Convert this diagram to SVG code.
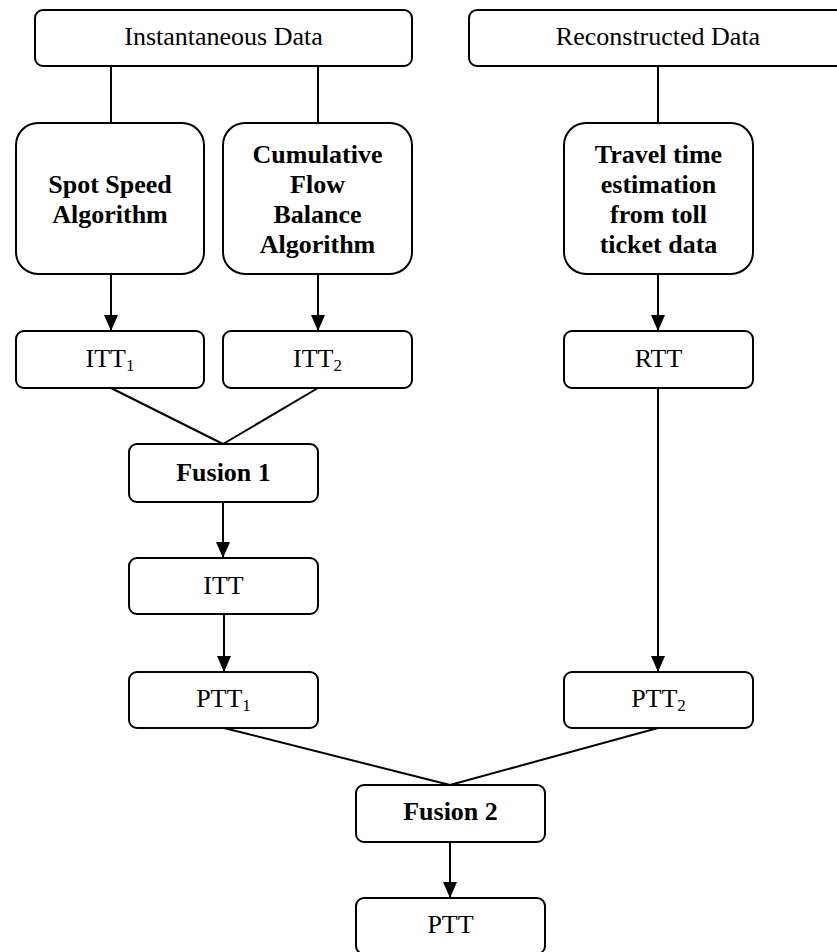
<svg xmlns="http://www.w3.org/2000/svg" width="837" height="952" viewBox="0 0 837 952">
  <style>
    .box { fill: #ffffff; stroke: #000000; stroke-width: 2; }
    .edge { fill: none; stroke: #000000; stroke-width: 2; }
    .t { font-size: 26px; fill: #000000; text-anchor: middle; }
    .b { font-weight: bold; }
    .sub { font-size: 17px; }
  </style>
  <rect width="837" height="952" fill="#ffffff"/>

  <!-- connectors -->
  <g id="connectors">
    <line class="edge" x1="111" y1="66" x2="111" y2="123"/>
    <line class="edge" x1="318" y1="66" x2="318" y2="123"/>
    <line class="edge" x1="658" y1="66" x2="658" y2="123"/>
    <path class="edge" d="M111,274 V331"/>
    <path d="M104,315 L118,315 L111,331 Z"/>
    <path class="edge" d="M318,274 V331"/>
    <path d="M311,315 L325,315 L318,331 Z"/>
    <path class="edge" d="M658,274 V331"/>
    <path d="M651,315 L665,315 L658,331 Z"/>
    <line class="edge" x1="111" y1="388" x2="223" y2="444"/>
    <line class="edge" x1="318" y1="388" x2="223" y2="444"/>
    <path class="edge" d="M223,502 V558"/>
    <path d="M216,542 L230,542 L223,558 Z"/>
    <path class="edge" d="M224,614 V672"/>
    <path d="M217,656 L231,656 L224,672 Z"/>
    <path class="edge" d="M658,388 V672"/>
    <path d="M651,656 L665,656 L658,672 Z"/>
    <line class="edge" x1="224" y1="728" x2="450" y2="785"/>
    <line class="edge" x1="658" y1="728" x2="450" y2="785"/>
    <path class="edge" d="M450,842 V898"/>
    <path d="M443,882 L457,882 L450,898 Z"/>
  </g>

  <g font-family="Liberation Serif, Times New Roman, Times, serif">
  <g id="instantaneous-data">
    <rect class="box" x="35" y="10" width="377" height="56" rx="8"/>
    <text class="t" x="223.5" y="45">Instantaneous Data</text>
  </g>
  <g id="reconstructed-data">
    <rect class="box" x="469" y="10" width="377" height="56" rx="8"/>
    <text class="t" x="658" y="45">Reconstructed Data</text>
  </g>

  <g id="spot-speed">
    <rect class="box" x="16" y="123" width="188" height="151" rx="22"/>
    <text class="t b" x="110" y="193">Spot Speed</text>
    <text class="t b" x="110" y="223">Algorithm</text>
  </g>
  <g id="cumulative-flow">
    <rect class="box" x="223" y="123" width="189" height="151" rx="22"/>
    <text class="t b" x="317.5" y="163">Cumulative</text>
    <text class="t b" x="317.5" y="193">Flow</text>
    <text class="t b" x="317.5" y="223">Balance</text>
    <text class="t b" x="317.5" y="253">Algorithm</text>
  </g>
  <g id="toll-ticket">
    <rect class="box" x="564" y="123" width="189" height="151" rx="22"/>
    <text class="t b" x="658.5" y="163">Travel time</text>
    <text class="t b" x="658.5" y="193">estimation</text>
    <text class="t b" x="658.5" y="223">from toll</text>
    <text class="t b" x="658.5" y="253">ticket data</text>
  </g>

  <g id="itt1">
    <rect class="box" x="16" y="331" width="188" height="57" rx="8"/>
    <text class="t" x="110" y="367">ITT<tspan class="sub" dy="4">1</tspan></text>
  </g>
  <g id="itt2">
    <rect class="box" x="223" y="331" width="189" height="57" rx="8"/>
    <text class="t" x="317.5" y="367">ITT<tspan class="sub" dy="4">2</tspan></text>
  </g>
  <g id="rtt">
    <rect class="box" x="564" y="331" width="189" height="57" rx="8"/>
    <text class="t" x="658.5" y="367">RTT</text>
  </g>

  <g id="fusion1">
    <rect class="box" x="129" y="444" width="189" height="58" rx="8"/>
    <text class="t b" x="223.5" y="481">Fusion 1</text>
  </g>
  <g id="itt">
    <rect class="box" x="129" y="558" width="189" height="56" rx="8"/>
    <text class="t" x="223.5" y="594">ITT</text>
  </g>

  <g id="ptt1">
    <rect class="box" x="129" y="672" width="189" height="56" rx="8"/>
    <text class="t" x="223.5" y="707">PTT<tspan class="sub" dy="4">1</tspan></text>
  </g>
  <g id="ptt2">
    <rect class="box" x="564" y="672" width="189" height="56" rx="8"/>
    <text class="t" x="658.5" y="707">PTT<tspan class="sub" dy="4">2</tspan></text>
  </g>

  <g id="fusion2">
    <rect class="box" x="356" y="785" width="189" height="57" rx="8"/>
    <text class="t b" x="450.5" y="820">Fusion 2</text>
  </g>
  <g id="ptt">
    <rect class="box" x="356" y="898" width="189" height="56" rx="8"/>
    <text class="t" x="450.5" y="933">PTT</text>
  </g>
  </g>
</svg>
